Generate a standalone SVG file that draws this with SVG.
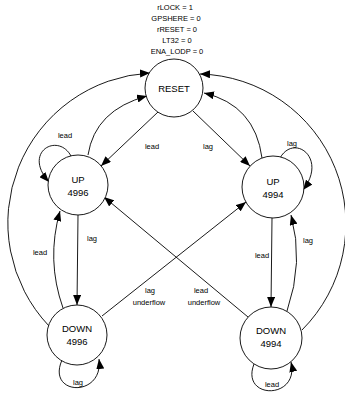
<svg xmlns="http://www.w3.org/2000/svg" width="345" height="396" viewBox="0 0 345 396">
  <style>
    .state { fill: #fff; stroke: #000; stroke-width: 0.9; }
    .name { font-family: "Liberation Sans", Arial, sans-serif; font-size: 9.5px; text-anchor: middle; fill: #000; }
    .lbl { font-family: "Liberation Sans", Arial, sans-serif; font-size: 7.5px; text-anchor: middle; fill: #000; }
    .edge { fill: none; stroke: #000; stroke-width: 0.9; marker-end: url(#arrow); }
  </style>
  <defs>
    <marker id="arrow" viewBox="0 0 10 8" refX="10" refY="4" markerWidth="10" markerHeight="8" markerUnits="userSpaceOnUse" orient="auto">
      <path d="M0,0 L10,4 L0,8 Z" fill="#000"/>
    </marker>
  </defs>
  <rect width="345" height="396" fill="#fff"/>

  <!-- reset condition -->
  <g id="reset-conditions" class="lbl">
    <text x="175" y="10">rLOCK = 1</text>
    <text x="176" y="21">GPSHERE = 0</text>
    <text x="177" y="32">rRESET = 0</text>
    <text x="177" y="43">LT32 = 0</text>
    <text x="177" y="54">ENA_LODP = 0</text>
  </g>

  <g id="connectors">
    <!-- outer returns to RESET -->
    <path class="edge" d="M49,326 A150,150 0 0 1 150,73"/>
    <path class="edge" d="M302,330 A150,150 0 0 0 200,74"/>
    <!-- UP states back to RESET -->
    <path class="edge" d="M88,155 Q95,110 147,96"/>
    <path class="edge" d="M262,158 Q255,105 204,93"/>
    <!-- RESET to UP states -->
    <path class="edge" d="M158,112 L101,166"/>
    <path class="edge" d="M193,111 L250,166"/>
    <!-- UP to DOWN -->
    <path class="edge" d="M78,215 L77,305"/>
    <path class="edge" d="M272,218 L271,307"/>
    <!-- DOWN back to UP -->
    <path class="edge" d="M63,308 Q46,260 60,211"/>
    <path class="edge" d="M287,311 Q304,262 291,215"/>
    <!-- underflow crossings -->
    <path class="edge" d="M102,316 L246,202"/>
    <path class="edge" d="M248,317 L104,197"/>
    <!-- self loops -->
    <path class="edge" d="M71,156 C58,132 22,152 49,182"/>
    <path class="edge" d="M280,158 C294,133 328,158 303,190"/>
    <path class="edge" d="M62,360 C46,396 104,398 99,359"/>
    <path class="edge" d="M254,364 C240,400 300,400 291,362"/>

    <g class="lbl">
      <text x="152" y="149">lead</text>
      <text x="208" y="149">lag</text>
      <text x="65" y="138">lead</text>
      <text x="292" y="146">lag</text>
      <text x="92" y="241">lag</text>
      <text x="40" y="255">lead</text>
      <text x="262" y="258">lead</text>
      <text x="308" y="243">lag</text>
      <text x="150" y="293">lag</text>
      <text x="149" y="305">underflow</text>
      <text x="201" y="293">lead</text>
      <text x="204" y="305">underflow</text>
      <text x="78" y="385">lag</text>
      <text x="272" y="387">lead</text>
    </g>
  </g>

  <g id="reset">
    <circle class="state" cx="174" cy="88" r="29"/>
    <text class="name" x="174" y="92">RESET</text>
  </g>
  <g id="up4996">
    <circle class="state" cx="78" cy="185" r="30"/>
    <text class="name" x="78" y="183">UP</text>
    <text class="name" x="78" y="196">4996</text>
  </g>
  <g id="up4994">
    <circle class="state" cx="273" cy="187" r="31"/>
    <text class="name" x="273" y="185">UP</text>
    <text class="name" x="273" y="198">4994</text>
  </g>
  <g id="down4996">
    <circle class="state" cx="77" cy="335" r="30"/>
    <text class="name" x="77" y="332">DOWN</text>
    <text class="name" x="77" y="345">4996</text>
  </g>
  <g id="down4994">
    <circle class="state" cx="271" cy="338" r="31"/>
    <text class="name" x="271" y="334">DOWN</text>
    <text class="name" x="271" y="347">4994</text>
  </g>
</svg>
